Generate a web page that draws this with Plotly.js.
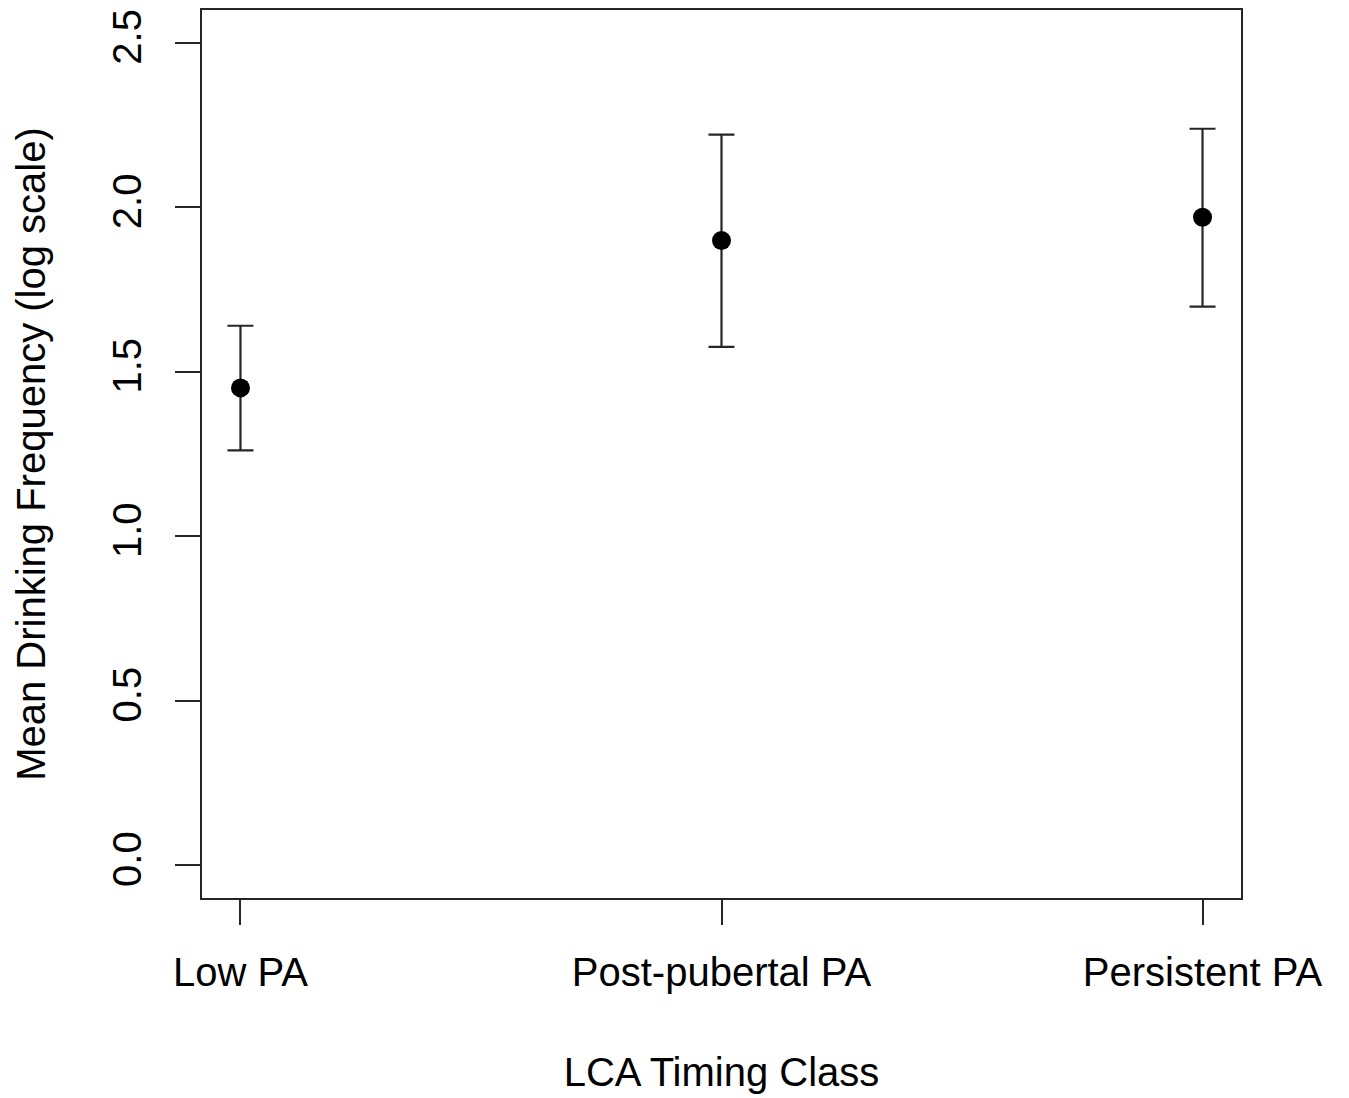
<!DOCTYPE html>
<html>
<head>
<meta charset="utf-8">
<script src="https://cdn.plot.ly/plotly-3.0.1.min.js"></script>
<style>html,body{margin:0;padding:0;background:#fff;}#chart{width:1349px;height:1098px;}</style>
</head>
<body>
<div id="chart"></div>
<script>
var categories = ["Low PA", "Post-pubertal PA", "Persistent PA"];
var xPositions = [1, 2, 3];
var means = [1.451, 1.899, 1.970];
var upper = [1.640, 2.221, 2.239];
var lower = [1.261, 1.576, 1.698];
var yTickVals = [0.0, 0.5, 1.0, 1.5, 2.0, 2.5];
var yTickText = ["0.0", "0.5", "1.0", "1.5", "2.0", "2.5"];

var errPlus = means.map(function (m, i) { return upper[i] - m; });
var errMinus = means.map(function (m, i) { return m - lower[i]; });

var lineColor = "#262626";
var font = { family: "Liberation Sans, Arial, sans-serif", size: 40, color: "#000" };

var trace = {
  type: "scatter",
  mode: "markers",
  x: xPositions,
  y: means,
  marker: { color: "#000", size: 19 },
  error_y: {
    type: "data",
    symmetric: false,
    array: errPlus,
    arrayminus: errMinus,
    color: lineColor,
    thickness: 2.2,
    width: 13
  },
  showlegend: false,
  hoverinfo: "x+y"
};

var layout = {
  width: 1349,
  height: 1098,
  margin: { l: 202, r: 108, t: 10, b: 200 },
  paper_bgcolor: "#fff",
  plot_bgcolor: "#fff",
  font: font,
  xaxis: {
    range: [0.92, 3.08],
    tickvals: xPositions,
    ticktext: categories,
    ticks: "outside",
    ticklen: 25,
    tickwidth: 2,
    tickcolor: lineColor,
    showline: true,
    linecolor: lineColor,
    linewidth: 2,
    mirror: true,
    showgrid: false,
    zeroline: false,
    ticklabelstandoff: 13,
    tickfont: font,
    title: { text: "LCA Timing Class", font: font, standoff: 65 }
  },
  yaxis: {
    range: [-0.1, 2.6],
    tickvals: yTickVals,
    ticktext: yTickText,
    tickangle: -90,
    ticks: "outside",
    ticklen: 25,
    tickwidth: 2,
    tickcolor: lineColor,
    showline: true,
    linecolor: lineColor,
    linewidth: 2,
    mirror: true,
    showgrid: false,
    zeroline: false,
    ticklabelstandoff: 18,
    tickfont: font,
    title: { text: "Mean Drinking Frequency (log scale)", font: font, standoff: 47 }
  }
};

Plotly.newPlot("chart", [trace], layout, { displayModeBar: false, staticPlot: true });
</script>
</body>
</html>
